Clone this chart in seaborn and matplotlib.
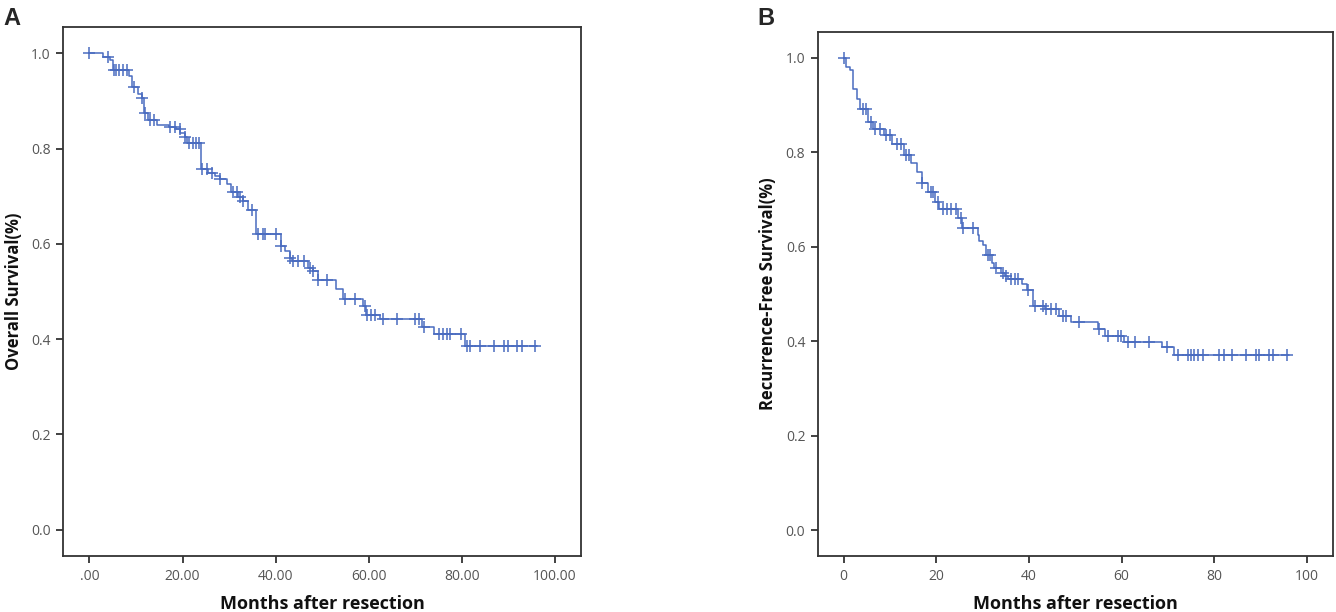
import numpy as np
import pandas as pd
import matplotlib
matplotlib.use("Agg")
import matplotlib.pyplot as plt
import seaborn as sns

sns.set_theme(style="ticks")
plt.rcParams['font.family'] = ['Open Sans', 'DejaVu Sans']

# Panel A: overall survival (Kaplan-Meier steps)
os_event_t = [0, 3.0, 4.5, 5.0, 8.5, 9.2, 10.5, 11.3, 11.8, 12.5, 14.5, 17.0, 18.5, 19.5,
              20.5, 21.0, 24.0, 25.5, 27.0, 28.0, 29.5, 30.5, 32.0, 33.0, 34.0, 35.8,
              41.1, 42.0, 43.0, 43.5, 47.0, 48.0, 49.0, 53.0, 54.5, 58.8, 59.5, 62.5,
              71.5, 74.0, 80.7]
os_surv = [1.0, 0.993, 0.985, 0.965, 0.952, 0.930, 0.915, 0.905, 0.875, 0.860, 0.850, 0.846,
           0.840, 0.833, 0.825, 0.812, 0.758, 0.748, 0.742, 0.735, 0.725, 0.708, 0.698,
           0.690, 0.670, 0.620, 0.595, 0.585, 0.571, 0.564, 0.550, 0.543, 0.525, 0.506,
           0.485, 0.470, 0.450, 0.442, 0.426, 0.410, 0.385]
os_censored = [0, 3.9, 5.2, 5.8, 6.4, 7.2, 8.0, 9.5, 11.3, 12.0, 13.0, 13.9, 17.3, 18.4, 19.4,
               20.5, 21.5, 22.3, 23.0, 23.6, 24.2, 25.2, 26.3, 28.1, 30.9, 31.6, 32.4, 33.1,
               34.9, 36.3, 37.3, 37.8, 40.1, 41.1, 43.0, 43.8, 44.9, 46.0, 47.4, 48.1, 49.2,
               51.1, 54.9, 57.1, 59.2, 59.7, 60.5, 61.4, 63.0, 66.0, 70.0, 70.7, 71.9, 75.0,
               75.9, 76.8, 77.5, 79.8, 81.1, 81.8, 83.9, 86.8, 89.0, 90.0, 91.8, 92.9, 95.8]
os_last = 96.2

# Panel B: recurrence-free survival
rfs_event_t = [0, 0.6, 1.3, 2.0, 2.9, 3.6, 5.3, 6.3, 8.6, 10.5, 13.0, 14.5, 15.8, 16.9, 18.3,
               19.8, 20.5, 24.6, 25.5, 28.9, 29.3, 30.0, 30.8, 32.0, 32.5, 34.0, 34.8, 35.5,
               38.5, 39.5, 40.8, 43.5, 46.5, 49.0, 55.0, 56.5, 60.5, 68.7, 71.4]
rfs_surv = [1.0, 0.981, 0.973, 0.934, 0.913, 0.892, 0.864, 0.850, 0.836, 0.818, 0.794, 0.776,
            0.759, 0.734, 0.716, 0.695, 0.679, 0.660, 0.639, 0.625, 0.611, 0.604, 0.583,
            0.566, 0.555, 0.545, 0.537, 0.531, 0.520, 0.509, 0.474, 0.467, 0.453, 0.441,
            0.425, 0.411, 0.399, 0.387, 0.371]
rfs_censored = [0, 4.2, 4.9, 5.9, 6.7, 7.8, 9.2, 9.9, 11.4, 12.4, 13.5, 14.2, 17.0, 18.9, 19.3,
                20.3, 21.4, 22.3, 23.2, 24.2, 25.4, 25.7, 27.9, 31.1, 31.5, 32.9, 34.4, 35.1,
                36.2, 36.9, 37.6, 39.7, 41.2, 43.0, 43.7, 44.8, 45.9, 47.3, 48.0, 50.9, 55.1,
                57.0, 59.2, 59.9, 61.3, 62.8, 66.0, 69.9, 72.1, 74.3, 75.0, 75.7, 76.4, 77.5,
                81.1, 82.2, 83.9, 86.8, 89.0, 89.7, 91.9, 92.6, 95.8]
rfs_last = 96.2

line_color = "#4a6cc0"
frame_color = "#333333"
tick_color = "#555555"


def km_frames(event_t, surv, censored, last):
    steps = pd.DataFrame({"t": list(event_t) + [last], "s": list(surv) + [surv[-1]]})
    idx = np.searchsorted(np.array(event_t), np.array(censored), side="right") - 1
    marks = pd.DataFrame({"t": censored, "s": np.array(surv)[idx]})
    return steps, marks


def draw(ax, event_t, surv, censored, last, ylabel, xtick_fmt):
    steps, marks = km_frames(event_t, surv, censored, last)
    sns.lineplot(data=steps, x="t", y="s", ax=ax, drawstyle="steps-post",
                 color=line_color, linewidth=1.1, estimator=None, sort=False)
    sns.scatterplot(data=marks, x="t", y="s", ax=ax, marker="+", s=70,
                    color=line_color, linewidth=1.1, zorder=3)
    ax.set_xlim(-5.6, 105.6)
    ax.set_ylim(-0.055, 1.055)
    ax.set_xticks(range(0, 101, 20))
    ax.set_xticklabels([xtick_fmt(v) for v in range(0, 101, 20)])
    ax.set_yticks([0.0, 0.2, 0.4, 0.6, 0.8, 1.0])
    ax.set_yticklabels([f"{v:.1f}" for v in [0.0, 0.2, 0.4, 0.6, 0.8, 1.0]])
    for sp in ax.spines.values():
        sp.set_color(frame_color)
        sp.set_linewidth(1.3)
    ax.tick_params(direction="out", length=5, width=1.3, color=frame_color,
                   labelcolor=tick_color, labelsize=10, pad=4)
    ax.set_xlabel("Months after resection", fontsize=13, fontweight="bold",
                  color="#111111", labelpad=8)
    ax.set_ylabel(ylabel, fontsize=12, fontweight="bold", color="#111111", labelpad=6)


fig = plt.figure(figsize=(13.36, 6.12), dpi=100)
axA = fig.add_axes([0.0474, 0.0915, 0.3875, 0.8644])
axB = fig.add_axes([0.6121, 0.0915, 0.3855, 0.8567])

draw(axA, os_event_t, os_surv, os_censored, os_last, "Overall Survival(%)",
     lambda v: ".00" if v == 0 else f"{v:.2f}")
draw(axB, rfs_event_t, rfs_surv, rfs_censored, rfs_last, "Recurrence-Free Survival(%)",
     lambda v: f"{v}")

fig.text(0.0025, 0.97, "A", fontsize=17, fontweight="bold", family=["Liberation Sans"],
         va="center", ha="left")
fig.text(0.567, 0.97, "B", fontsize=17, fontweight="bold", family=["Liberation Sans"],
         va="center", ha="left")

fig.savefig("out.png", dpi=100)
